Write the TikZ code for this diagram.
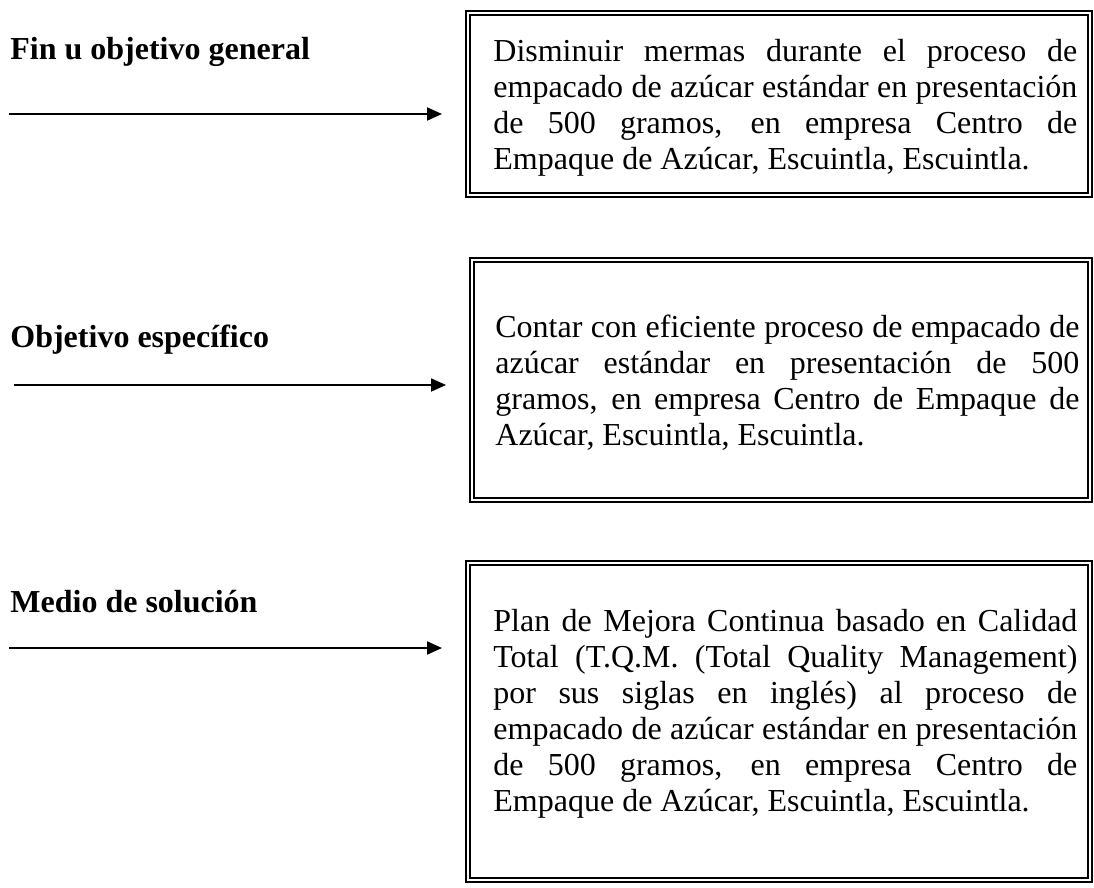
\documentclass[tikz,border=0pt]{standalone}
\usepackage{fontspec}
\setmainfont{Liberation Serif}
\usetikzlibrary{arrows.meta, positioning, calc}
\tolerance=10000
\hbadness=10000

\begin{document}
\begin{tikzpicture}[
  x=0.5pt, y=-0.5pt,
  frame/.style={draw, line width=1pt, double, double distance=1pt,
                minimum width=311pt, inner sep=0pt},
  body/.style={anchor=north west, inner sep=0pt, text width=292pt,
               align=justify, font=\fontsize{16pt}{18pt}\selectfont},
  head/.style={anchor=base west, inner sep=0pt,
               font=\fontsize{16pt}{18pt}\selectfont\bfseries},
  arr/.style={-{Triangle[length=7.5pt, width=6.5pt]}, line width=1pt,
              shorten >=12.5pt},
]
\useasboundingbox (0,0) rectangle (1094,888);

% Boxes
\node[frame, minimum height=91pt]    (fin)   at (779, 104)   {};
\node[frame, minimum height=120pt, minimum width=309pt] (obj) at (781, 380) {};
\node[frame, minimum height=158.5pt] (medio) at (779, 721.5) {};

% Box texts
\node[body] (fintxt) at (493, 39) {Disminuir mermas durante el proceso de\linebreak
  empacado de azúcar estándar en presentación\linebreak
  de 500 gramos, en empresa Centro de\linebreak
  Empaque de Azúcar, Escuintla, Escuintla.};
\node[body] (objtxt) at (495, 315) {Contar con eficiente proceso de empacado de\linebreak
  azúcar estándar en presentación de 500\linebreak
  gramos, en empresa Centro de Empaque de\linebreak
  Azúcar, Escuintla, Escuintla.};
\node[body] (mediotxt) at (493, 609) {Plan de Mejora Continua basado en Calidad\linebreak
  Total (T.Q.M. (Total Quality Management)\linebreak
  por sus siglas en inglés) al proceso de\linebreak
  empacado de azúcar estándar en presentación\linebreak
  de 500 gramos, en empresa Centro de\linebreak
  Empaque de Azúcar, Escuintla, Escuintla.};

% Left labels
\node[head] (finlbl)   at (10, 60)  {Fin u objetivo general};
\node[head] (objlbl)   at (10, 348) {Objetivo específico};
\node[head] (mediolbl) at (10, 612) {Medio de solución};

% Arrows
\coordinate (finsrc)   at (9, 114);
\coordinate (objsrc)   at (14, 385);
\coordinate (mediosrc) at (9, 648);
\draw[arr] (finsrc)   -- (finsrc -| fin.west);
\draw[arr] (objsrc)   -- (objsrc -| obj.west);
\draw[arr] (mediosrc) -- (mediosrc -| medio.west);
\end{tikzpicture}
\end{document}
